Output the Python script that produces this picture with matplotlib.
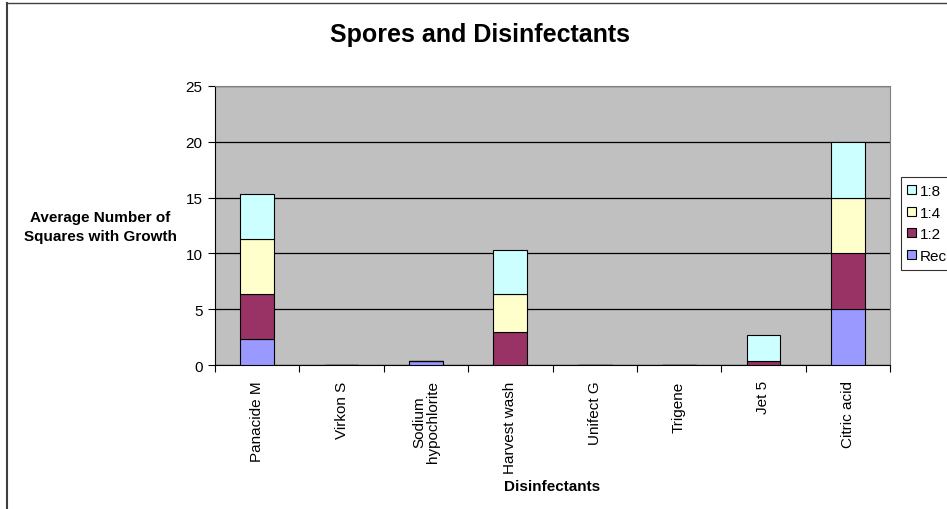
import numpy as np
import matplotlib.pyplot as plt

plt.rcParams['font.family'] = ['Liberation Sans', 'DejaVu Sans']

# dati
disinfettanti = ["Panacide M", "Virkon S", "Sodium\nhypochlorite", "Harvest wash",
                 "Unifect G", "Trigene", "Jet 5", "Citric acid"]
rec = [2.33, 0, 0.33, 0, 0, 0, 0, 5]
d12 = [4, 0, 0, 3, 0, 0, 0.33, 5]
d14 = [5, 0, 0, 3.33, 0, 0, 0, 5]
d18 = [4, 0, 0, 4, 0, 0, 2.33, 5]

serie = [("Rec", rec, "#9999FF"),
         ("1:2", d12, "#993366"),
         ("1:4", d14, "#FFFFCC"),
         ("1:8", d18, "#CCFFFF")]

W, H = 947, 510
fig = plt.figure(figsize=(W / 100, H / 100), dpi=100)
ax = fig.add_axes([215/W, 1-366/H, (890-215)/W, (366-87)/H])
ax.set_facecolor("#C0C0C0")

x = np.arange(len(disinfettanti))
base = np.zeros(len(x))
for nome, val, col in serie:
    val = np.array(val, dtype=float)
    ax.bar(x, val, width=0.4, bottom=base, color=col, edgecolor="black",
           linewidth=0.8, label=nome, zorder=3)
    base += val

ax.set_xlim(-0.5, len(x) - 0.5)
ax.set_ylim(0, 25)
ax.set_yticks([0, 5, 10, 15, 20, 25])
ax.yaxis.grid(True, color="black", linewidth=0.9, zorder=1)
ax.set_axisbelow(True)

ax.set_xticks(x)
ax.set_xticklabels(disinfettanti, rotation=90, fontsize=11, va="top", ha="center",
                   linespacing=1.0)
ax.tick_params(axis="x", length=0, pad=11)
ax.set_xticks(np.arange(-0.5, len(x)), minor=True)
ax.tick_params(axis="x", which="minor", length=5, direction="out", width=0.8)
ax.tick_params(axis="y", length=5, width=0.8, labelsize=11, pad=4)

for s in ["top", "right"]:
    ax.spines[s].set_color("#808080")
ax.spines["left"].set_color("black")
ax.spines["bottom"].set_color("black")

# titoli
fig.text(480/W, 1 - 42/H, "Spores and Disinfectants",
         ha="center", va="baseline", fontsize=18, fontweight="bold")
fig.text(100/W, 1 - 222/H, "Average Number of",
         ha="center", va="baseline", fontsize=11, fontweight="bold")
fig.text(100/W, 1 - 241/H, "Squares with Growth",
         ha="center", va="baseline", fontsize=11, fontweight="bold")
fig.text(552/W, 1 - 491/H, "Disinfectants",
         ha="center", va="baseline", fontsize=11, fontweight="bold")

h, l = ax.get_legend_handles_labels()
leg = fig.legend(h[::-1], l[::-1], loc="upper left",
                 bbox_to_anchor=(900.5/W, 1 - 178/H), fontsize=11,
                 frameon=True, fancybox=False, edgecolor="black",
                 handlelength=0.55, handleheight=0.55, handletextpad=0.25,
                 labelspacing=0.5, borderpad=0.45, borderaxespad=0)
leg.get_frame().set_linewidth(0.8)

# cornice del grafico
fig.add_artist(plt.Line2D([7/W, 7/W], [0, 1 - 4/H], color="#404040", lw=1.5))
fig.add_artist(plt.Line2D([7/W, 1], [1 - 4/H, 1 - 4/H], color="#404040", lw=1.0))

fig.savefig("out.png", dpi=100)
